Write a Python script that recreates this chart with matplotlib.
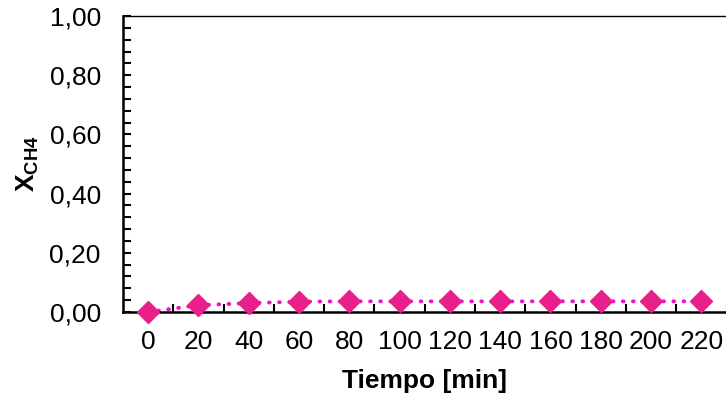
import matplotlib.pyplot as plt
from matplotlib.ticker import MultipleLocator, FixedLocator

plt.rcParams['font.family'] = ['Liberation Sans', 'DejaVu Sans']
plt.rcParams['mathtext.fontset'] = 'custom'
plt.rcParams['mathtext.bf'] = 'Liberation Sans:bold'
plt.rcParams['mathtext.rm'] = 'Liberation Sans'

# tiempo de reaccion [min] y conversion de metano
tiempo = ['0', '20', '40', '60', '80', '100', '120', '140', '160', '180', '200', '220']
x_ch4 = [0.0, 0.023, 0.030, 0.035, 0.036, 0.036, 0.036, 0.036, 0.036, 0.036, 0.036, 0.036]

fig = plt.figure(figsize=(7.26, 4), dpi=100)
ax = fig.add_axes([0.1694, 0.22, 0.8313, 0.74])

pos = list(range(len(tiempo)))
# linea punteada entre puntos
ax.plot(pos, x_ch4, linestyle=(0, (0.2, 2.4)), dash_capstyle='round',
        color='#EE14CC', linewidth=2.8, clip_on=False, zorder=2)
ax.plot(pos, x_ch4, linestyle='none',
        marker='D', markersize=11.5, markerfacecolor='#E8208A',
        markeredgecolor='#E8208A', clip_on=False, zorder=3)

ax.set_xlim(-0.5, len(tiempo) - 0.5)
ax.set_ylim(0, 1)

# eje x tipo categoria: marcas entre categorias
ax.xaxis.set_major_locator(FixedLocator(pos))
ax.set_xticklabels(tiempo)
ax.xaxis.set_minor_locator(FixedLocator([p + 0.5 for p in pos]))
ax.tick_params(axis='x', which='major', length=0, pad=13, labelsize=19)
ax.tick_params(axis='x', which='minor', direction='in', length=6, width=1.5)

ax.yaxis.set_major_locator(MultipleLocator(0.2))
ax.yaxis.set_minor_locator(MultipleLocator(0.04))
ax.yaxis.set_major_formatter(plt.FuncFormatter(lambda v, p: f'{v:.2f}'.replace('.', ',')))
ax.tick_params(axis='y', which='both', direction='in', length=6, width=1.5,
               pad=16, labelsize=19)

for s in ['left', 'bottom']:
    ax.spines[s].set_linewidth(1.8)
for s in ['top', 'right']:
    ax.spines[s].set_linewidth(1.0)

ax.set_xlabel('Tiempo [min]', fontsize=19, fontweight='bold', labelpad=11)
ax.set_ylabel(r'$\mathbf{X}_{\mathbf{CH4}}$', fontsize=19, labelpad=6)

fig.savefig('out.png', dpi=100)
